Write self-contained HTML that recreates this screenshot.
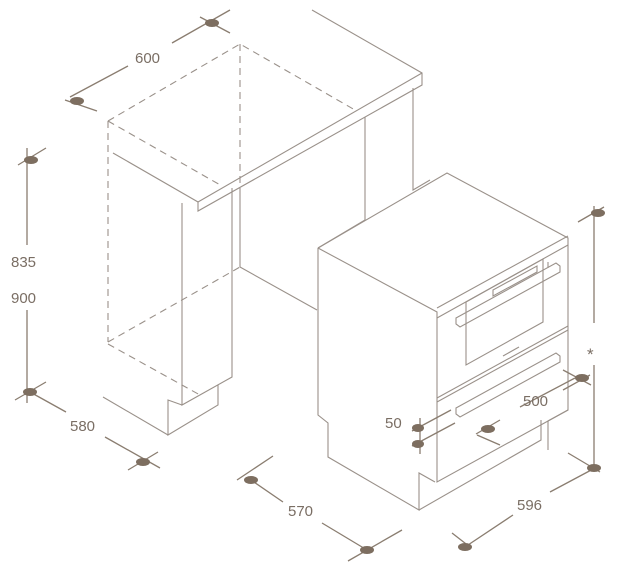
<!DOCTYPE html>
<html><head><meta charset="utf-8"><style>
html,body{margin:0;padding:0;background:#fff;}
svg{display:block;}
text{font-family:"Liberation Sans",sans-serif;font-size:15px;fill:#7a6e64;}
</style></head><body>
<svg width="620" height="572" viewBox="0 0 620 572" xmlns="http://www.w3.org/2000/svg">
<g fill="none" stroke="#9a918a" stroke-width="1.1">
<!-- countertop -->
<path d="M312,10 L422,73 L422,85 L198,211 L198,202 L113,153"/>
<path d="M422,73 L198,202"/>
<!-- dashed box -->
<g stroke-dasharray="7,5">
<path d="M108,121 L240,44 L355,110"/>
<path d="M240,44 L240,190"/>
<path d="M108,121 L108,342"/>
<path d="M108,121 L222,186"/>
<path d="M108,342 L240,267"/>
<path d="M108,344 L200,395"/>
</g>
<!-- side panel -->
<path d="M182,203 L182,405 L232,377 L232,188"/>
<path d="M240,190 L240,267"/>
<path d="M218,385 L218,405 L168,435 L168,400 L182,405"/>
<path d="M103,397 L168,435"/>
<path d="M240,267 L317,310"/>
<path d="M365,117 L365,220 L318,248"/>
<path d="M413,88 L413,190 L430,180"/>
<!-- appliance -->
<path d="M318,248 L447,173 L568,238 L568,410 L437,482 L437,312 L318,248"/>
<path d="M318,248 L318,415 L328,423 L328,457 L419,510 L419,473 L435,482"/>
<path d="M419,510 L541,440 L541,420"/>
<path d="M568,410 L548,421 L548,450"/>
<!-- front top trim -->
<path d="M437,308 L568,236 M437,318 L568,245"/>
<!-- upper door -->
<path d="M437,398 L568,326"/>
<path d="M466,302 L543,259 L543,322 L466,365 Z"/>
<path d="M493,290 L537,266 L537,272 L493,296 Z"/>
<path d="M503,356 L519,347"/>
<!-- upper handle -->
<path d="M456,318 L556,263 L560,266 L560,272 L460,327 L456,324 Z M548,262 L548,268"/>
<!-- lower drawer -->
<path d="M437,402 L568,330"/>
<path d="M456,408 L556,353 L560,356 L560,362 L460,417 L456,414 Z"/>
</g>
<!-- dimension lines -->
<g fill="none" stroke="#8a7d70" stroke-width="1.3">
<path d="M70,97 L128,66 M172,43 L230,10 M65,100 L97,111 M200,17 L230,33"/>
<path d="M27,148 L27,245 M27,310 L27,403 M18,165 L46,148 M15,400 L46,382"/>
<path d="M30,392 L66,412 M105,437 L160,468 M128,470 L158,452"/>
<path d="M237,480 L273,456 M251,480 L283,502 M322,523 L367,550 M348,561 L402,530"/>
<path d="M452,533 L470,547 M465,547 L513,515 M550,492 L595,468 M568,453 L600,472"/>
<path d="M594,206 L594,323 M594,365 L594,470 M578,222 L604,207"/>
<path d="M563,370 L591,385 M563,390 L590,375 M575,378 L520,407"/>
<path d="M500,420 L476,434 M477,435 L500,445 M488,429 L490,428"/>
<path d="M420,418 L420,454 M412,431 L451,410 M412,446 L455,423"/>
</g>
<g fill="#7d6e60">
<ellipse cx="77" cy="101" rx="7" ry="4"/>
<ellipse cx="212" cy="23" rx="7" ry="4"/>
<ellipse cx="31" cy="160" rx="7" ry="4"/>
<ellipse cx="30" cy="392" rx="7" ry="4"/>
<ellipse cx="143" cy="462" rx="7" ry="4"/>
<ellipse cx="251" cy="480" rx="7" ry="4"/>
<ellipse cx="367" cy="550" rx="7" ry="4"/>
<ellipse cx="465" cy="547" rx="7" ry="4"/>
<ellipse cx="594" cy="468" rx="7" ry="4"/>
<ellipse cx="598" cy="213" rx="7" ry="4"/>
<ellipse cx="582" cy="378" rx="7" ry="4"/>
<ellipse cx="488" cy="429" rx="7" ry="4"/>
<ellipse cx="418" cy="428" rx="6" ry="4"/>
<ellipse cx="418" cy="444" rx="6" ry="4"/>
</g>
<text x="135" y="63">600</text>
<text x="11" y="267">835</text>
<text x="11" y="303">900</text>
<text x="70" y="431">580</text>
<text x="288" y="516">570</text>
<text x="517" y="510">596</text>
<text x="523" y="406">500</text>
<text x="385" y="428">50</text>
<text x="587" y="360" style="font-size:17px">*</text>
</svg>
</body></html>
